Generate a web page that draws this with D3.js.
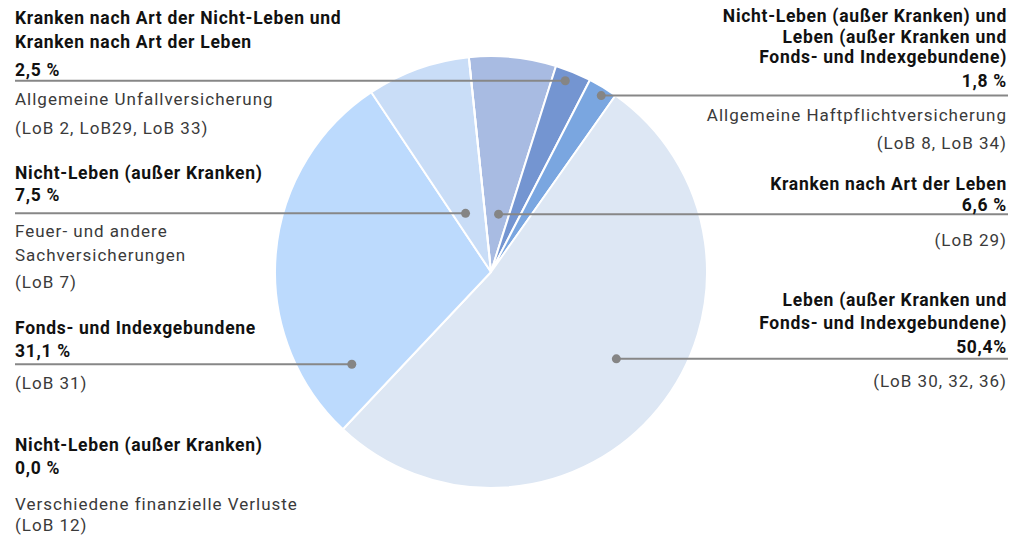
<!DOCTYPE html>
<html>
<head>
<meta charset="utf-8">
<script src="https://cdn.jsdelivr.net/npm/d3@7"></script>
<style>
  body { margin: 0; background: #fff; }
  text { font-family: Roboto, "DejaVu Sans", sans-serif; }
</style>
</head>
<body>
<div id="chart"></div>
<script>
// slices in drawing order, clockwise
const titles = [
  ['Kranken nach Art der Leben'],
  ['Kranken nach Art der Nicht-Leben und', 'Kranken nach Art der Leben'],
  ['Nicht-Leben (außer Kranken) und', 'Leben (außer Kranken und', 'Fonds- und Indexgebundene)'],
  ['Leben (außer Kranken und', 'Fonds- und Indexgebundene)'],
  ['Fonds- und Indexgebundene'],
  ['Nicht-Leben (außer Kranken)'],
  ['Nicht-Leben (außer Kranken)']
];
const shares = ['6,6 %', '2,5 %', '1,8 %', '50,4%', '31,1 %', '7,5 %', '0,0 %'];
const notes = [
  ['(LoB 29)'],
  ['Allgemeine Unfallversicherung', '(LoB 2, LoB29, LoB 33)'],
  ['Allgemeine Haftpflichtversicherung', '(LoB 8, LoB 34)'],
  ['(LoB 30, 32, 36)'],
  ['(LoB 31)'],
  ['Feuer- und andere', 'Sachversicherungen', '(LoB 7)'],
  ['Verschiedene finanzielle Verluste', '(LoB 12)']
];
// slice sizes as drawn (degrees of the circle turned into percent)
const values = [6.5, 2.7, 2.2, 52.2, 28.6, 7.7, 0.0];
const colors = ['#a8bbe2', '#7495d1', '#7aa6e0', '#dde7f4', '#bcdafd', '#c9ddf7', '#c9ddf7'];

// label layout: where the dot sits inside the slice, and text baselines
const layout = [
  { side: 'right', at: 0.57, r: 0.27, titleY: [190], shareY: 211, noteY: [246] },
  { side: 'left', at: 0.38, r: 0.95, titleY: [24, 48], shareY: 76, noteY: [105, 134] },
  { side: 'right', at: 0.6, r: 0.963, titleY: [22, 43, 63], shareY: 87, noteY: [121, 149] },
  { side: 'right', at: 0.476, r: 0.706, titleY: [306, 329], shareY: 353, noteY: [387] },
  { side: 'left', at: 0.128, r: 0.773, titleY: [334], shareY: 357, noteY: [389] },
  { side: 'left', at: 0.367, r: 0.296, titleY: [179], shareY: 201, noteY: [237, 261, 288] },
  { side: 'left', at: null, r: null, titleY: [451], shareY: 474, noteY: [510, 531] }
];

const width = 1011;
const height = 537;
const cx = 491, cy = 272, radius = 216;
const leftX = 15, rightX = 1008;

const svg = d3.select('#chart')
  .append('svg')
  .attr('width', width)
  .attr('height', height);

const startAngle = -5.9 * Math.PI / 180;
const pie = d3.pie()
  .sort(null)
  .value(d => d)
  .startAngle(startAngle)
  .endAngle(startAngle + 2 * Math.PI);

const arcs = pie(values);
const arc = d3.arc().innerRadius(0).outerRadius(radius);

const g = svg.append('g').attr('transform', `translate(${cx},${cy})`);

g.selectAll('path')
  .data(arcs)
  .join('path')
    .attr('d', arc)
    .attr('fill', (d, i) => colors[i])
    .attr('stroke', '#fff')
    .attr('stroke-width', 2)
    .attr('stroke-linejoin', 'round');

// leader lines and dots
const pointers = arcs.map((d, i) => {
  const l = layout[i];
  if (l.at == null) return null;
  const a = d.startAngle + l.at * (d.endAngle - d.startAngle);
  return {
    i,
    x: cx + Math.sin(a) * l.r * radius,
    y: cy - Math.cos(a) * l.r * radius,
    side: l.side
  };
}).filter(p => p);

svg.append('g')
  .selectAll('line')
  .data(pointers)
  .join('line')
    .attr('x1', d => d.x)
    .attr('y1', d => d.y)
    .attr('x2', d => d.side === 'left' ? leftX : rightX)
    .attr('y2', d => d.y)
    .attr('stroke', '#878787')
    .attr('stroke-width', 2);

svg.append('g')
  .selectAll('circle')
  .data(pointers)
  .join('circle')
    .attr('cx', d => d.x)
    .attr('cy', d => d.y)
    .attr('r', 4.5)
    .attr('fill', '#858585');

// text blocks
const labels = svg.append('g');
layout.forEach((l, i) => {
  const x = l.side === 'left' ? leftX : rightX - 1;
  const anchor = l.side === 'left' ? 'start' : 'end';
  const block = labels.append('g').attr('text-anchor', anchor);
  titles[i].forEach((t, k) => {
    block.append('text')
      .attr('x', x).attr('y', l.titleY[k])
      .attr('font-size', 17.5).attr('font-weight', 700)
      .attr('letter-spacing', 0.7)
      .attr('fill', '#111')
      .text(t);
  });
  block.append('text')
    .attr('x', x).attr('y', l.shareY)
    .attr('font-size', 17.5).attr('font-weight', 700)
    .attr('letter-spacing', 0.7)
    .attr('fill', '#111')
    .text(shares[i]);
  notes[i].forEach((t, k) => {
    block.append('text')
      .attr('x', x).attr('y', l.noteY[k])
      .attr('font-size', 17)
      .attr('letter-spacing', 1)
      .attr('fill', '#3a3a3a')
      .text(t);
  });
});
</script>
</body>
</html>
